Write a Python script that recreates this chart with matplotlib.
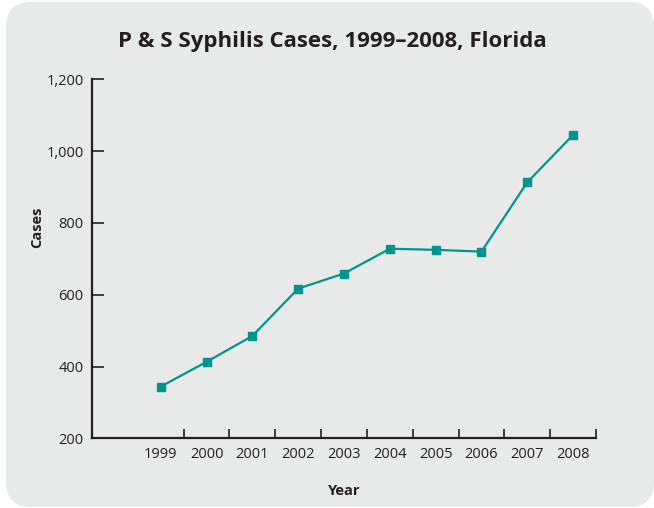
import matplotlib
matplotlib.use("Agg")
import matplotlib.pyplot as plt
from matplotlib.patches import FancyBboxPatch
from matplotlib.ticker import FixedLocator, FuncFormatter

years = [1999, 2000, 2001, 2002, 2003, 2004, 2005, 2006, 2007, 2008]
cases = [344, 413, 485, 617, 659, 728, 725, 720, 913, 1045]
year_labels = [str(y) for y in years]
y_ticks = [200, 400, 600, 800, 1000, 1200]

plt.rcParams['font.family'] = ['Open Sans', 'DejaVu Sans']

fig = plt.figure(figsize=(6.54, 5.08), dpi=100)
fig.patch.set_facecolor('white')

bg = FancyBboxPatch((0.06 + 0.25, 0.01 + 0.25), 6.48 - 0.5, 5.05 - 0.5,
                    boxstyle="round,pad=0.25", transform=fig.dpi_scale_trans,
                    facecolor='#e8e9e9', edgecolor='none', zorder=-10)
fig.patches.append(bg)

ax = fig.add_axes([92/654, 1 - 438.3/508, (596 - 92)/654, (438.3 - 79.3)/508])
ax.set_facecolor('none')
ax.set_zorder(5)

teal = '#00948f'
ax.plot(years, cases, color=teal, linewidth=1.6, marker='s', markersize=5.2,
        markerfacecolor=teal, markeredgecolor=teal, clip_on=False, zorder=3)

ax.set_xlim(years[0] - 1.5, years[-1] + 0.5)
ax.set_ylim(200, 1200)

dark = '#231f20'
for s in ['top', 'right']:
    ax.spines[s].set_visible(False)
for s in ['left', 'bottom']:
    ax.spines[s].set_linewidth(1.6)
    ax.spines[s].set_color(dark)

ax.yaxis.set_major_locator(FixedLocator(y_ticks))
ax.yaxis.set_major_formatter(FuncFormatter(lambda v, p: f"{int(v):,}"))
ax.tick_params(axis='y', direction='in', length=8.5, width=1.2, color=dark,
               labelsize=10.5, labelcolor=dark, pad=6)

boundaries = [y + 0.5 for y in years]
ax.xaxis.set_major_locator(FixedLocator(boundaries))
ax.xaxis.set_major_formatter(FuncFormatter(lambda v, p: ""))
ax.xaxis.set_minor_locator(FixedLocator(years))
ax.set_xticklabels(year_labels, minor=True)
ax.tick_params(axis='x', which='major', direction='in', length=6.5, width=1.2, color=dark)
ax.tick_params(axis='x', which='minor', length=0, labelsize=10.5, labelcolor=dark, pad=6.5)

ax.set_ylabel('Cases', fontsize=10.5, fontweight='bold', color=dark, va='center')
ax.yaxis.set_label_coords((37.5 - 92) / 504, (438.3 - 227) / 359)
ax.set_xlabel('Year', fontsize=10.5, fontweight='bold', color=dark, va='center')
ax.xaxis.set_label_coords(0.5, (438.3 - 491) / 359)

fig.text(332/654, 1 - 46.7/508, 'P & S Syphilis Cases, 1999\u20132008, Florida',
         ha='center', va='baseline', fontsize=16, fontweight='bold', color=dark)

fig.savefig('out.png', dpi=100)
